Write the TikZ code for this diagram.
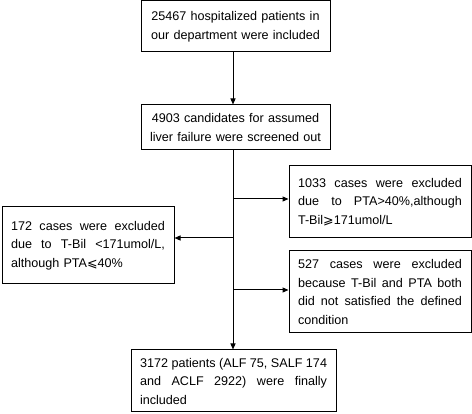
\documentclass[tikz,border=0pt]{standalone}
\usepackage{fontspec}
\setmainfont{Liberation Sans}
\newfontfamily\symfont{DejaVu Sans}
\usetikzlibrary{arrows.meta}
\newcommand{\jline}[2]{\makebox[#1][s]{\spaceskip=0.278em plus 1fil\relax #2}}
\begin{document}
\begin{tikzpicture}[x=1pt,y=-1pt,
  box/.style={draw, line width=1pt, font=\fontsize{12.6}{18.5}\selectfont, inner xsep=9pt, inner ysep=4pt},
  arr/.style={line width=1pt, -{Triangle[length=6pt,width=5pt]}}]
\useasboundingbox (0,0) rectangle (472,414);
\node[box, text width=171pt, minimum height=51pt, align=center] (b1) at (235.5,26.5)
  {25467 hospitalized patients in\\our department were included};
\node[box, text width=171pt, minimum height=45pt, align=center] (b2) at (235.5,127.5)
  {4903 candidates for assumed\\liver failure were screened out};
\node[box, text width=164pt, minimum height=72pt, align=left] (r1) at (380,202)
  {\jline{164pt}{1033 cases were excluded}\\
   \jline{164pt}{due to PTA>40\%,although}\\
   T-Bil{\symfont ⩾}171umol/L};
\node[box, text width=154pt, minimum height=77pt, align=left] (l1) at (88,245.5)
  {\jline{154pt}{172 cases were excluded}\\
   \jline{154pt}{due to T-Bil <171umol/L,}\\
   although PTA{\symfont ⩽}40\%};
\node[box, text width=164pt, minimum height=82pt, align=left] (r2) at (380,292)
  {\jline{164pt}{527 cases were excluded}\\
   \jline{164pt}{because T-Bil and PTA both}\\
   \jline{164pt}{did not satisfied the defined}\\
   condition};
\node[box, text width=187pt, minimum height=62pt, align=left] (fin) at (233.5,381)
  {\jline{187pt}{3172 patients (ALF 75, SALF 174}\\
   \jline{187pt}{and ACLF 2922) were finally}\\
   included};
\coordinate (t) at (233,0);
\coordinate (j1) at (233,199);
\coordinate (j2) at (233,238);
\coordinate (j3) at (233,290);
\draw[arr] (b1.south -| t) -- (b2.north -| t);
\draw[arr] (b2.south -| t) -- (fin.north -| t);
\draw[arr] (j1) -- (j1 -| r1.west);
\draw[arr] (j2) -- (j2 -| l1.east);
\draw[arr] (j3) -- (j3 -| r2.west);
\end{tikzpicture}
\end{document}
